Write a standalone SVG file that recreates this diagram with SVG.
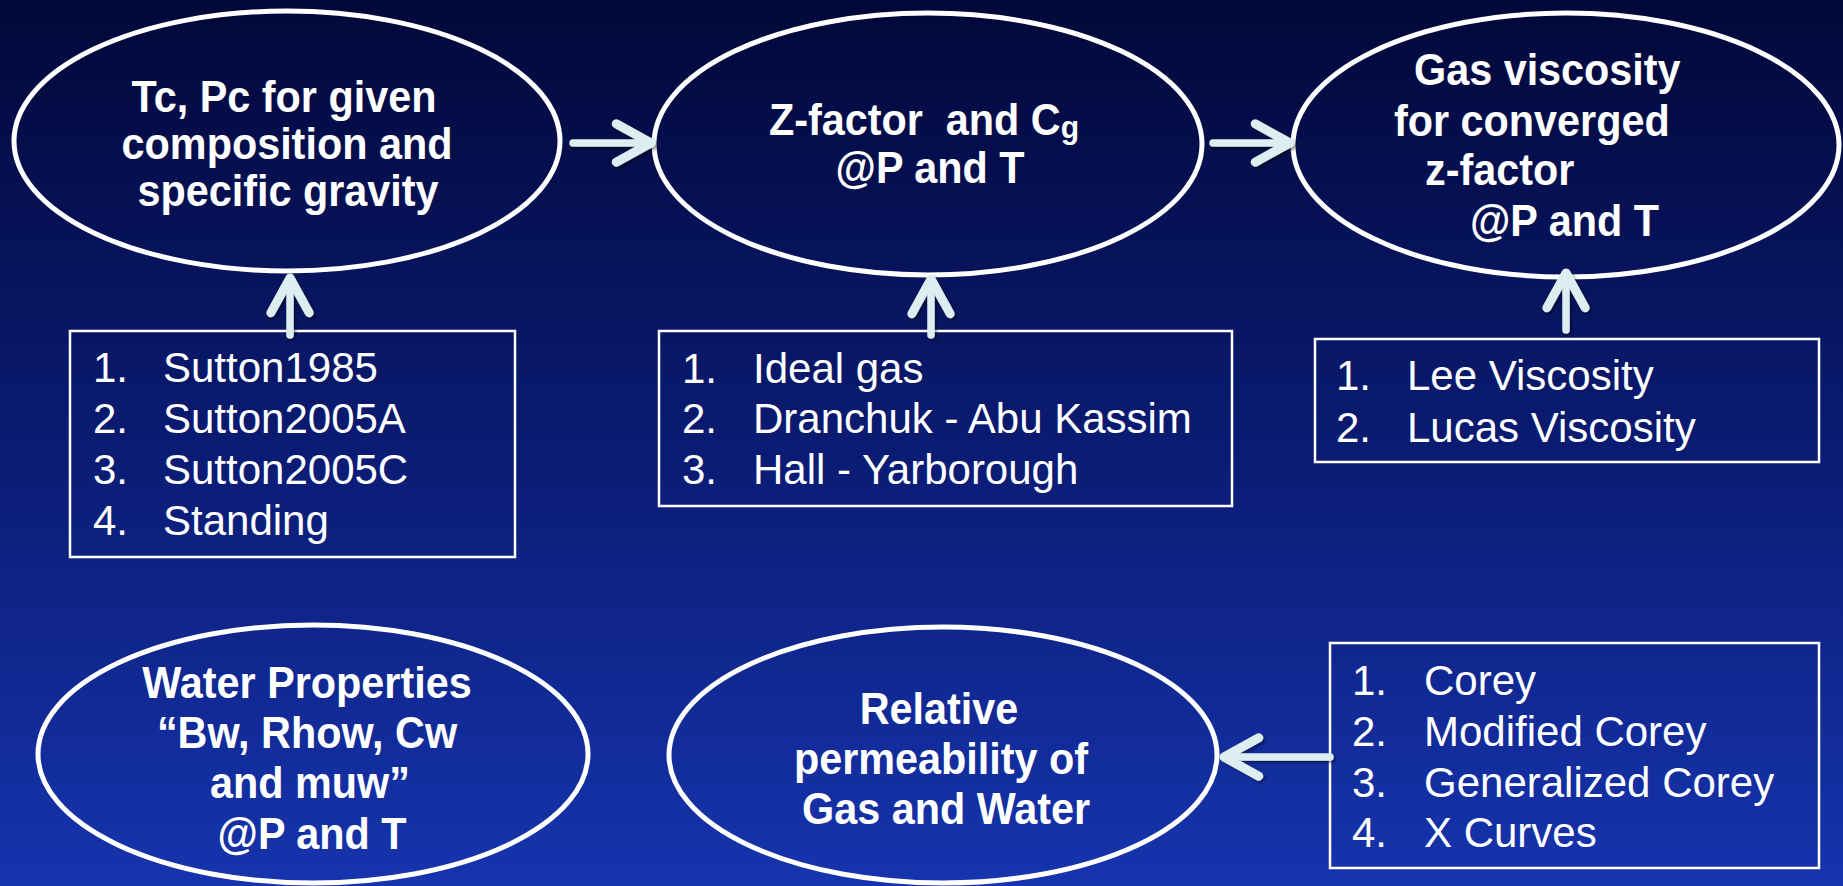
<svg xmlns="http://www.w3.org/2000/svg" width="1843" height="886" viewBox="0 0 1843 886">
  <defs>
    <linearGradient id="bg" x1="0" y1="0" x2="0" y2="1">
      <stop offset="0" stop-color="#020839"/>
      <stop offset="0.5" stop-color="#0a1b72"/>
      <stop offset="1" stop-color="#1634ae"/>
    </linearGradient>
    <filter id="sh" x="-20%" y="-20%" width="140%" height="140%">
      <feDropShadow dx="2" dy="2" stdDeviation="1.5" flood-color="#000000" flood-opacity="0.45"/>
    </filter>
    <marker id="arr" markerUnits="userSpaceOnUse" markerWidth="60" markerHeight="60" refX="0" refY="0" viewBox="-40 -25 50 50" orient="auto" overflow="visible">
      <path d="M-29,-16 L0,0 L-29,16" fill="none" stroke="#ddeef0" stroke-width="7.5" stroke-linecap="round" stroke-linejoin="round"/>
    </marker>
  </defs>
  <style>
    .node ellipse { fill: none; stroke: #ffffff; stroke-width: 5; }
    .box rect { fill: none; stroke: #ffffff; stroke-width: 2.5; }
    .t { font-family: "Liberation Sans", Arial, sans-serif; font-weight: bold; font-size: 44px; fill: #ffffff; }
    .l { font-family: "Liberation Sans", Arial, sans-serif; font-size: 42px; fill: #ffffff; }
    .c { text-anchor: middle; }
    .conn path { fill: none; stroke: #ddeef0; stroke-width: 7.5; stroke-linecap: round; marker-end: url(#arr); }
  </style>
  <rect x="0" y="0" width="1843" height="886" fill="url(#bg)"/>

  <g id="n-tcpc" class="node">
    <ellipse cx="287" cy="141" rx="273" ry="130"/>
    <text class="t c" transform="translate(284,112) scale(0.94,1)">Tc, Pc for given</text>
    <text class="t c" transform="translate(287,159) scale(0.94,1)">composition and</text>
    <text class="t c" transform="translate(288,206) scale(0.94,1)">specific gravity</text>
  </g>

  <g id="n-zfactor" class="node">
    <ellipse cx="928" cy="144" rx="274" ry="131"/>
    <text class="t c" transform="translate(924,135) scale(0.94,1)" xml:space="preserve">Z-factor  and C<tspan font-size="32" dy="3">g</tspan></text>
    <text class="t c" transform="translate(930,183) scale(0.94,1)">@P and T</text>
  </g>

  <g id="n-gasvisc" class="node">
    <ellipse cx="1566" cy="145" rx="273" ry="132"/>
    <text class="t" transform="translate(1414,85) scale(0.94,1)">Gas viscosity</text>
    <text class="t" transform="translate(1394,136) scale(0.94,1)">for converged</text>
    <text class="t" transform="translate(1425,185) scale(0.94,1)">z-factor</text>
    <text class="t" transform="translate(1470,236) scale(0.94,1)">@P and T</text>
  </g>

  <g id="n-water" class="node">
    <ellipse cx="313" cy="754" rx="275" ry="129"/>
    <text class="t c" transform="translate(307,698) scale(0.94,1)">Water Properties</text>
    <text class="t c" transform="translate(307,748) scale(0.94,1)">“Bw, Rhow, Cw</text>
    <text class="t c" transform="translate(310,798) scale(0.94,1)">and muw”</text>
    <text class="t c" transform="translate(312,849) scale(0.94,1)">@P and T</text>
  </g>

  <g id="n-relperm" class="node">
    <ellipse cx="943" cy="755" rx="274" ry="128"/>
    <text class="t c" transform="translate(939,724) scale(0.94,1)">Relative</text>
    <text class="t c" transform="translate(941,774) scale(0.94,1)">permeability of</text>
    <text class="t c" transform="translate(946,824) scale(0.94,1)">Gas and Water</text>
  </g>

  <g id="b-critical" class="box">
    <rect x="70" y="331" width="445" height="226"/>
    <text class="l" x="93" y="382">1.</text><text class="l" x="163" y="382">Sutton1985</text>
    <text class="l" x="93" y="433">2.</text><text class="l" x="163" y="433">Sutton2005A</text>
    <text class="l" x="93" y="484">3.</text><text class="l" x="163" y="484">Sutton2005C</text>
    <text class="l" x="93" y="535">4.</text><text class="l" x="163" y="535">Standing</text>
  </g>

  <g id="b-zmethods" class="box">
    <rect x="659" y="331" width="573" height="175"/>
    <text class="l" x="682" y="383">1.</text><text class="l" x="753" y="383">Ideal gas</text>
    <text class="l" x="682" y="433">2.</text><text class="l" x="753" y="433">Dranchuk - Abu Kassim</text>
    <text class="l" x="682" y="484">3.</text><text class="l" x="753" y="484">Hall - Yarborough</text>
  </g>

  <g id="b-visc" class="box">
    <rect x="1315" y="339" width="504" height="123"/>
    <text class="l" x="1336" y="390">1.</text><text class="l" x="1407" y="390">Lee Viscosity</text>
    <text class="l" x="1336" y="442">2.</text><text class="l" x="1407" y="442">Lucas Viscosity</text>
  </g>

  <g id="b-relperm" class="box">
    <rect x="1330" y="643" width="489" height="225"/>
    <text class="l" x="1352" y="695">1.</text><text class="l" x="1424" y="695">Corey</text>
    <text class="l" x="1352" y="746">2.</text><text class="l" x="1424" y="746">Modified Corey</text>
    <text class="l" x="1352" y="797">3.</text><text class="l" x="1424" y="797">Generalized Corey</text>
    <text class="l" x="1352" y="847">4.</text><text class="l" x="1424" y="847">X Curves</text>
  </g>

  <g id="connectors" class="conn" filter="url(#sh)">
    <path d="M573,143 L651,143"/>
    <path d="M1213,143 L1290,143"/>
    <path d="M290,335 L290,278"/>
    <path d="M931,335 L931,279"/>
    <path d="M1566,330 L1566,273"/>
    <path d="M1330,757 L1224,757"/>
  </g>
</svg>
